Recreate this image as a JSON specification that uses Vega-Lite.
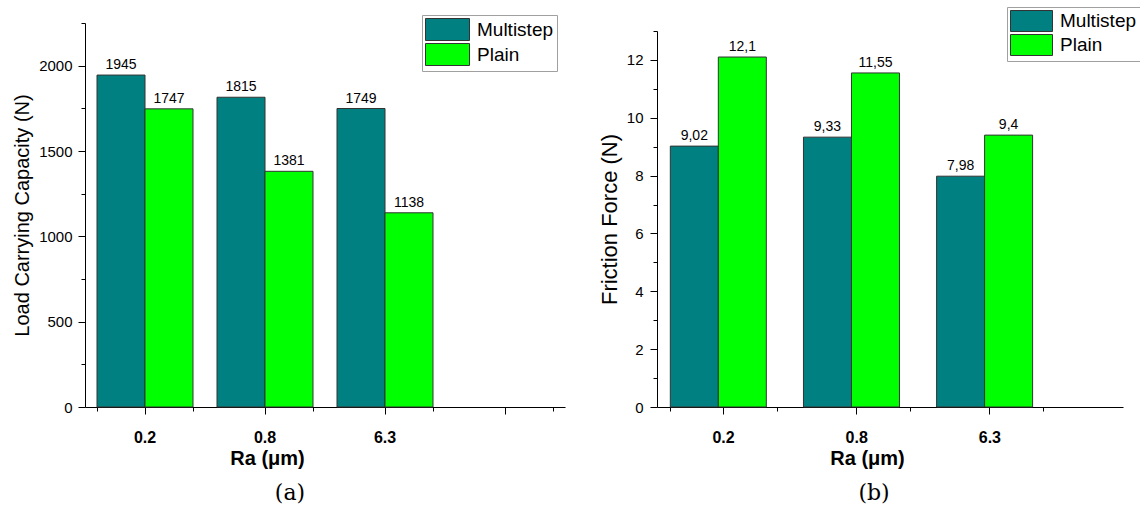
{
  "$schema": "https://vega.github.io/schema/vega-lite/v6.json",
  "padding": {"left": 12, "top": 6, "right": 0, "bottom": 0},
  "bounds": "flush",
  "spacing": 92,
  "config": {
    "view": {"stroke": null},
    "font": "Liberation Sans",
    "axis": {"grid": false, "domainColor": "#000000", "tickColor": "#000000", "labelColor": "#000000", "titleColor": "#000000", "labelFont": "Liberation Sans", "titleFont": "Liberation Sans", "domainWidth": 1, "tickWidth": 1}
  },
  "datasets": {
    "load": [
      {"Ra": "0.2", "Surface": "Multistep", "Load": 1945, "label": "1945"},
      {"Ra": "0.2", "Surface": "Plain", "Load": 1747, "label": "1747"},
      {"Ra": "0.8", "Surface": "Multistep", "Load": 1815, "label": "1815"},
      {"Ra": "0.8", "Surface": "Plain", "Load": 1381, "label": "1381"},
      {"Ra": "6.3", "Surface": "Multistep", "Load": 1749, "label": "1749"},
      {"Ra": "6.3", "Surface": "Plain", "Load": 1138, "label": "1138"}
    ],
    "friction": [
      {"Ra": "0.2", "Surface": "Multistep", "Force": 9.02, "label": "9,02"},
      {"Ra": "0.2", "Surface": "Plain", "Force": 12.1, "label": "12,1"},
      {"Ra": "0.8", "Surface": "Multistep", "Force": 9.33, "label": "9,33"},
      {"Ra": "0.8", "Surface": "Plain", "Force": 11.55, "label": "11,55"},
      {"Ra": "6.3", "Surface": "Multistep", "Force": 7.98, "label": "7,98"},
      {"Ra": "6.3", "Surface": "Plain", "Force": 9.4, "label": "9,4"}
    ]
  },
  "resolve": {"scale": {"color": "independent"}, "legend": {"color": "independent"}},
  "hconcat": [
    {
      "width": 480,
      "height": 384,
      "data": {"name": "load"},
      "title": {"text": "(a)", "orient": "bottom", "font": "DejaVu Serif", "fontSize": 22, "fontWeight": "normal", "color": "#000000", "dx": -35, "offset": 15},
      "encoding": {
        "xOffset": {"field": "Surface", "type": "nominal", "sort": ["Multistep", "Plain"]}
      },
      "layer": [
        {
          "mark": {"type": "bar", "stroke": "#333333", "strokeWidth": 1},
          "encoding": {
            "x": {"field": "Ra", "type": "nominal", "scale": {"domain": ["0.2", "0.8", "6.3", " "], "paddingInner": 0.2, "paddingOuter": 0.1},
              "axis": {"orient": "bottom", "title": "Ra (μm)", "titleFontSize": 20, "titleFontWeight": "bold", "titleX": 182, "titleY": 51, "titleBaseline": "middle", "labelFontSize": 16, "labelFontWeight": "bold", "labelAngle": 0, "labelDx": 8, "labelPadding": 15, "tickSize": 7}},
            "y": {"field": "Load", "type": "quantitative", "scale": {"domain": [0, 2250], "nice": false},
              "axis": {"orient": "left", "values": [0, 500, 1000, 1500, 2000], "format": "d", "title": "Load Carrying Capacity (N)", "titleFontSize": 20, "titleFontWeight": "normal", "titlePadding": 6, "labelFontSize": 15, "labelPadding": 6, "tickSize": 7}},
            "color": {"field": "Surface", "type": "nominal",
              "scale": {"domain": ["Multistep", "Plain"], "range": ["#008080", "#00ff00"]},
              "legend": {"orient": "none", "legendX": 337, "legendY": -8, "title": null, "strokeColor": "#a0a0a0", "fillColor": "#ffffff", "padding": 3, "rowPadding": -3, "labelFontSize": 19, "labelColor": "#000000", "labelOffset": 29, "symbolType": "M-1,-1H3V1H-1Z", "symbolSize": 484, "symbolStrokeColor": "#333333", "symbolStrokeWidth": 1}}
          }
        },
        {
          "mark": {"type": "text", "baseline": "bottom", "dy": -3, "fontSize": 14, "color": "#000000"},
          "encoding": {
            "x": {"field": "Ra", "type": "nominal", "axis": {"orient": "bottom", "tickBand": "extent", "labels": false, "domain": false, "title": null, "tickSize": 4}},
            "y": {"field": "Load", "type": "quantitative", "axis": {"orient": "left", "values": [250, 750, 1250, 1750, 2250], "labels": false, "domain": false, "title": null, "tickSize": 4}},
            "text": {"field": "label"}
          }
        }
      ],
      "resolve": {"axis": {"x": "independent", "y": "independent"}}
    },
    {
      "width": 466,
      "height": 384,
      "data": {"name": "friction"},
      "title": {"text": "(b)", "orient": "bottom", "font": "DejaVu Serif", "fontSize": 22, "fontWeight": "normal", "color": "#000000", "dx": -16, "offset": 15},
      "encoding": {
        "xOffset": {"field": "Surface", "type": "nominal", "sort": ["Multistep", "Plain"]}
      },
      "layer": [
        {
          "mark": {"type": "bar", "stroke": "#333333", "strokeWidth": 1},
          "encoding": {
            "x": {"field": "Ra", "type": "nominal", "scale": {"domain": ["0.2", "0.8", "6.3"], "paddingInner": 0.2, "paddingOuter": 0.35, "align": 0.142857},
              "axis": {"orient": "bottom", "title": "Ra (μm)", "titleFontSize": 20, "titleFontWeight": "bold", "titleX": 210, "titleY": 51, "titleBaseline": "middle", "labelFontSize": 16, "labelFontWeight": "bold", "labelAngle": 0, "labelDx": 13, "labelPadding": 15, "tickSize": 7}},
            "y": {"field": "Force", "type": "quantitative", "scale": {"domain": [0, 13], "nice": false, "range": [384, 8]},
              "axis": {"orient": "left", "values": [0, 2, 4, 6, 8, 10, 12], "title": "Friction Force (N)", "titleFontSize": 22, "titleFontWeight": "normal", "titlePadding": 5, "labelFontSize": 15, "labelPadding": 7, "tickSize": 7}},
            "color": {"field": "Surface", "type": "nominal",
              "scale": {"domain": ["Multistep", "Plain"], "range": ["#008080", "#00ff00"]},
              "legend": {"orient": "none", "legendX": 350, "legendY": -16, "title": null, "strokeColor": "#a0a0a0", "fillColor": "#ffffff", "padding": 3, "rowPadding": -3, "labelFontSize": 19, "labelColor": "#000000", "labelOffset": 28, "symbolType": "M-1,-1H3V1H-1Z", "symbolSize": 441, "symbolStrokeColor": "#333333", "symbolStrokeWidth": 1}}
          }
        },
        {
          "mark": {"type": "text", "baseline": "bottom", "dy": -3, "fontSize": 14, "color": "#000000"},
          "encoding": {
            "x": {"field": "Ra", "type": "nominal", "axis": {"orient": "bottom", "tickBand": "extent", "labels": false, "domain": false, "title": null, "tickSize": 4}},
            "y": {"field": "Force", "type": "quantitative", "axis": {"orient": "left", "values": [1, 3, 5, 7, 9, 11, 13], "labels": false, "domain": false, "title": null, "tickSize": 4}},
            "text": {"field": "label"}
          }
        }
      ],
      "resolve": {"axis": {"x": "independent", "y": "independent"}}
    }
  ]
}
